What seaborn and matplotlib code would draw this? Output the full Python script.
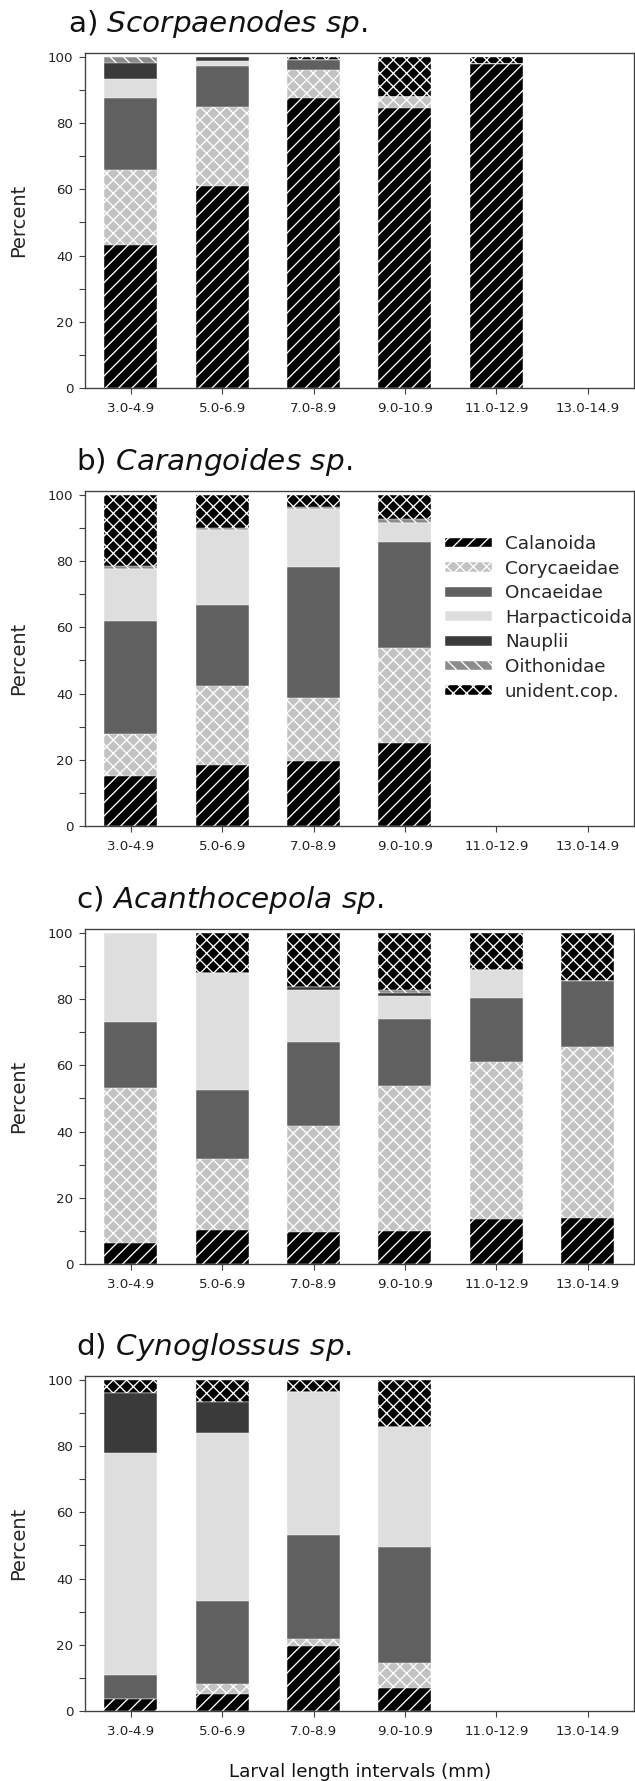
import numpy as np
import pandas as pd
import matplotlib
matplotlib.use("Agg")
import matplotlib.pyplot as plt
import seaborn as sns
from matplotlib.patches import Patch
from matplotlib.ticker import MultipleLocator

# Larval length classes (mm) on the x axis
intervals = ["3.0-4.9", "5.0-6.9", "7.0-8.9", "9.0-10.9", "11.0-12.9", "13.0-14.9"]

# Prey groups, stacked bottom to top
prey = ["Calanoida", "Corycaeidae", "Oncaeidae", "Harpacticoida",
        "Nauplii", "Oithonidae", "unident.cop."]
prey_colors = ["#000000", "#c2c2c2", "#606060", "#dedede",
               "#3a3a3a", "#8c8c8c", "#000000"]
prey_hatches = ["//", "xx", "", "", "", "\\\\", "xx"]

# Percent composition of the diet; one row per prey group, one column per interval
scorpaenodes = [
    [43.3, 61.1, 87.5, 84.6, 98.0, 0.0],   # Calanoida
    [22.7, 23.7, 8.7, 3.3, 0.0, 0.0],      # Corycaeidae
    [21.7, 12.5, 2.8, 0.0, 0.0, 0.0],      # Oncaeidae
    [5.5, 1.6, 0.0, 0.0, 0.0, 0.0],        # Harpacticoida
    [4.9, 1.1, 0.0, 0.0, 0.0, 0.0],        # Nauplii
    [1.9, 0.0, 0.0, 0.0, 0.0, 0.0],        # Oithonidae
    [0.0, 0.0, 1.0, 12.1, 2.0, 0.0],       # unident.cop.
]
carangoides = [
    [15.1, 18.4, 19.6, 25.0, 0.0, 0.0],
    [12.6, 24.0, 19.0, 28.9, 0.0, 0.0],
    [34.3, 24.4, 39.7, 31.9, 0.0, 0.0],
    [15.5, 22.6, 17.4, 5.8, 0.0, 0.0],
    [0.0, 0.0, 0.0, 0.0, 0.0, 0.0],
    [1.0, 0.7, 0.8, 1.1, 0.0, 0.0],
    [21.5, 9.9, 3.5, 7.3, 0.0, 0.0],
]
acanthocepola = [
    [6.3, 10.4, 9.7, 10.0, 13.7, 14.0],
    [47.0, 21.3, 32.1, 43.8, 47.3, 51.6],
    [19.7, 21.0, 25.3, 20.1, 19.3, 19.8],
    [27.0, 35.2, 15.6, 7.1, 8.4, 0.0],
    [0.0, 0.0, 1.0, 1.0, 0.0, 0.0],
    [0.0, 0.0, 0.0, 0.8, 0.0, 0.0],
    [0.0, 12.1, 16.3, 17.2, 11.3, 14.6],
]
cynoglossus = [
    [3.5, 5.0, 19.6, 7.0, 0.0, 0.0],
    [0.0, 3.1, 2.1, 7.4, 0.0, 0.0],
    [7.4, 25.1, 31.5, 35.2, 0.0, 0.0],
    [66.9, 50.9, 43.3, 36.1, 0.0, 0.0],
    [18.4, 9.1, 0.0, 0.0, 0.0, 0.0],
    [0.0, 0.0, 0.0, 0.0, 0.0, 0.0],
    [3.8, 6.8, 3.5, 14.3, 0.0, 0.0],
]

panel_letters = ["a)", "b)", "c)", "d)"]
species = ["Scorpaenodes sp.", "Carangoides sp.", "Acanthocepola sp.", "Cynoglossus sp."]
panel_data = [scorpaenodes, carangoides, acanthocepola, cynoglossus]

sns.set_style("ticks")
plt.rcParams["font.family"] = ["DejaVu Sans"]
plt.rcParams["mathtext.fontset"] = "dejavusans"
plt.rcParams["hatch.linewidth"] = 1.2

DPI = 80
W, H = 635, 1781
fig = plt.figure(figsize=(W / DPI, H / DPI), dpi=DPI)

ax_left, ax_right = 85, 633.5
ax_tops = [53, 491, 929, 1376]
ax_h = 335
title_x = [68, 76, 76, 76]


def draw_panel(ax, values):
    cum = np.cumsum(np.asarray(values, dtype=float), axis=0)
    # Cumulative bars drawn from the top group down, each covering the ones above it
    for i in range(len(prey) - 1, -1, -1):
        df = pd.DataFrame({"interval": intervals, "top": cum[i]})
        sns.barplot(data=df, x="interval", y="top", order=intervals,
                    color=prey_colors[i], saturation=1, errorbar=None,
                    hatch=prey_hatches[i], edgecolor="white", linewidth=0.4,
                    width=0.58, ax=ax)
    ax.set_xlim(-0.5, 5.5)
    ax.set_ylim(0, 101.2)
    ax.yaxis.set_major_locator(MultipleLocator(20))
    ax.yaxis.set_minor_locator(MultipleLocator(10))
    ax.set_xlabel("")
    ax.set_ylabel("Percent", fontsize=17.5)
    ax.yaxis.set_label_coords(-0.103, 0.5)
    ax.tick_params(axis="both", which="both", direction="out", length=5.4,
                   width=1.0, color="#404040", labelsize=12, labelcolor="#222222")
    ax.tick_params(axis="x", pad=7)
    ax.tick_params(axis="y", which="major", pad=5)
    for s in ax.spines.values():
        s.set_visible(True)
        s.set_color("#404040")
        s.set_linewidth(1.2)


for k in range(4):
    bottom = 1 - (ax_tops[k] + ax_h) / H
    ax = fig.add_axes([ax_left / W, bottom, (ax_right - ax_left) / W, ax_h / H])
    draw_panel(ax, panel_data[k])
    name = species[k].replace(" ", r"\ ")
    fig.text(title_x[k] / W, 1 - (ax_tops[k] - 21) / H,
             panel_letters[k] + " $\\mathit{" + name + "}$",
             fontsize=26.5, ha="left", va="baseline", color="#111111")
    if k == 1:
        handles = [Patch(facecolor=c, hatch=h, edgecolor="white", linewidth=0.4, label=p)
                   for p, c, h in zip(prey, prey_colors, prey_hatches)]
        ax.legend(handles=handles, loc="upper left",
                  bbox_to_anchor=((445 - ax_left) / (ax_right - ax_left), (ax_h - (535 - ax_tops[k])) / ax_h),
                  frameon=False, fontsize=16.5, handlelength=2.55, handleheight=0.45,
                  handletextpad=0.72, labelspacing=0.36, borderpad=0, borderaxespad=0)

fig.text(360 / W, 1 - 1772 / H, "Larval length intervals (mm)",
         fontsize=16.5, ha="center", va="center", color="#111111")

fig.savefig("out.png", dpi=DPI)
